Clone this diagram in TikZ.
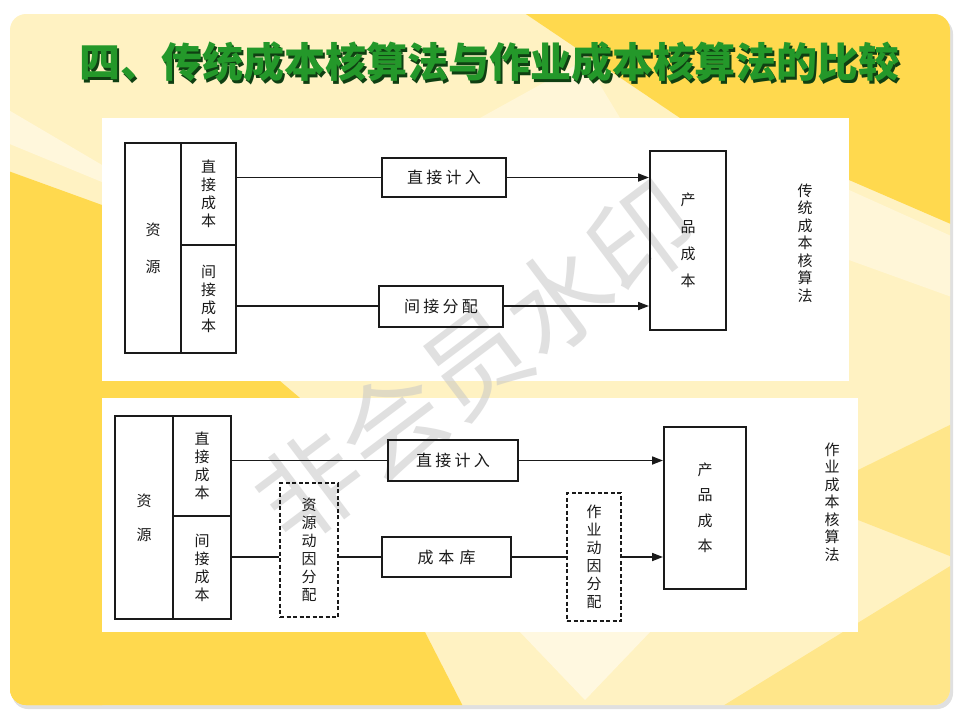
\documentclass[tikz,border=0pt]{standalone}
\usepackage{fontspec}
\newfontfamily\cjk{Noto Sans CJK SC}
\usetikzlibrary{arrows.meta}
\definecolor{cream}{HTML}{FFF2C2}
\definecolor{yel}{HTML}{FFD94E}
\definecolor{lyel}{HTML}{FFE68A}
\definecolor{pale}{HTML}{FFFAE8}
\definecolor{ttlgreen}{HTML}{24982A}
\definecolor{ttlshadow}{HTML}{0F3F12}
\definecolor{ink}{HTML}{1A1A1A}
\newcommand\gapk{\kern3.3pt}
\tikzset{
  txt/.style={font=\cjk\fontsize{15}{18}\selectfont, text=ink, align=center},
  cell/.style={draw=ink, line width=1.7pt, inner sep=0pt},
  boxn/.style={draw=ink, line width=2pt, inner sep=0pt, font=\cjk\fontsize{16}{18}\selectfont, text=ink},
  dbox/.style={draw=ink, line width=1.8pt, dash pattern=on 4pt off 2.5pt, inner sep=0pt, font=\cjk\fontsize{15}{18}\selectfont, text=ink, align=center},
  conn/.style={draw=ink, line width=1.7pt},
  arr/.style={conn, -{Triangle[length=11pt,width=8pt]}},
}
\begin{document}
\begin{tikzpicture}[x=1pt,y=-1pt]
\useasboundingbox (0,0) rectangle (960,720);
\fill[white] (0,0) rectangle (960,720);
% slide shadow
\fill[black!12, rounded corners=16pt] (12,18) rectangle (953,709);
% slide background
\begin{scope}
\clip[rounded corners=16pt] (10,14) rectangle (950,705);
\fill[cream] (0,0) rectangle (960,720);
% top-right bright region
\fill[yel] (505,0) -- (960,0) -- (960,228) -- (849,180) -- (849,118) -- (680,118) -- cycle;
\fill[pale, opacity=.6] (480,118) -- (620,118) -- (585,60) -- cycle;
\fill[pale, opacity=.6] (849,190) -- (960,240) -- (960,300) -- (849,260) -- cycle;
% left bright region
\fill[yel] (0,168) -- (102,205) -- (102,720) -- (0,720) -- cycle;
\fill[pale, opacity=.7] (0,105) -- (102,165) -- (102,182) -- (0,140) -- cycle;
% bottom
\fill[yel] (0,632) -- (425,632) -- (470,720) -- (0,720) -- cycle;
\fill[pale, opacity=.8] (520,632) -- (650,632) -- (585,700) -- cycle;
\fill[lyel] (700,720) -- (960,560) -- (960,720) -- cycle;
\fill[lyel] (858,470) -- (960,420) -- (960,560) -- (858,520) -- cycle;
% gap between panels
\fill[yel] (102,381) -- (280,381) -- (300,398) -- (102,398) -- cycle;
\end{scope}
% title
\node[font=\cjk\bfseries\fontsize{41}{41}\selectfont, text=ttlshadow] (ttls) at (491.5,65) {四、传统成本核算法与作业成本核算法的比较};
\node[font=\cjk\bfseries\fontsize{41}{41}\selectfont, text=ttlgreen] (ttl) at (489,62) {四、传统成本核算法与作业成本核算法的比较};
% panels
\fill[white] (102,118) rectangle (849,381);
\fill[white] (102,398) rectangle (858,632);
% watermark
\node[rotate=37, text=black!22, opacity=.55, font=\cjk\fontsize{104}{104}\selectfont] (wm) at (475,362) {非会员水印};

% ---------- top diagram ----------
\node[cell, minimum width=56pt, minimum height=210pt, txt, font=\cjk\fontsize{15}{37}\selectfont] (rs1) at (153,248) {资\\源};
\node[cell, minimum width=55pt, minimum height=102pt, txt] (dc1) at (208.5,194) {直\\接\\成\\本};
\node[cell, minimum width=55pt, minimum height=108pt, txt] (ic1) at (208.5,299) {间\\接\\成\\本};
\node[boxn, minimum width=124pt, minimum height=39pt] (zj1) at (444,177.5) {直\gapk 接\gapk 计\gapk 入};
\node[boxn, minimum width=124pt, minimum height=41pt] (jf1) at (441,306) {间\gapk 接\gapk 分\gapk 配};
\node[boxn, minimum width=76pt, minimum height=179pt, align=center, font=\cjk\fontsize{15}{27}\selectfont] (cp1) at (688,240.5) {产\\品\\成\\本};
\node[txt, font=\cjk\fontsize{15}{17.5}\selectfont] (lb1) at (805,243) {传\\统\\成\\本\\核\\算\\法};
\draw[conn] (dc1.east |- zj1.west) -- (zj1.west);
\draw[arr] (zj1.east) -- (cp1.west |- zj1.east);
\draw[conn] (ic1.east |- jf1.west) -- (jf1.west);
\draw[arr] (jf1.east) -- (cp1.west |- jf1.east);

% ---------- bottom diagram ----------
\node[cell, minimum width=58pt, minimum height=203pt, txt, font=\cjk\fontsize{15}{34}\selectfont] (rs2) at (144,517.5) {资\\源};
\node[cell, minimum width=58pt, minimum height=100pt, txt] (dc2) at (202,466) {直\\接\\成\\本};
\node[cell, minimum width=58pt, minimum height=103pt, txt] (ic2) at (202,567.5) {间\\接\\成\\本};
\node[boxn, minimum width=130pt, minimum height=41pt] (zj2) at (453,460.5) {直\gapk 接\gapk 计\gapk 入};
\node[dbox, minimum width=58pt, minimum height=134pt] (dd1) at (309,550) {资\\源\\动\\因\\分\\配};
\node[boxn, minimum width=129pt, minimum height=40pt] (ck) at (446.5,557) {成\kern5pt 本\kern5pt 库};
\node[dbox, minimum width=54pt, minimum height=128pt] (dd2) at (594,557) {作\\业\\动\\因\\分\\配};
\node[boxn, minimum width=82pt, minimum height=162pt, align=center, font=\cjk\fontsize{15}{25.5}\selectfont] (cp2) at (705,508) {产\\品\\成\\本};
\node[txt, font=\cjk\fontsize{15}{17.5}\selectfont] (lb2) at (832,502) {作\\业\\成\\本\\核\\算\\法};
\draw[conn] (dc2.east |- zj2.west) -- (zj2.west);
\draw[arr] (zj2.east) -- (cp2.west |- zj2.east);
\draw[conn] (ic2.east |- ck.west) -- (dd1.west |- ck.west);
\draw[conn] (dd1.east |- ck.west) -- (ck.west);
\draw[conn] (ck.east) -- (dd2.west |- ck.east);
\draw[arr] (dd2.east |- ck.east) -- (cp2.west |- ck.east);
\end{tikzpicture}
\end{document}
